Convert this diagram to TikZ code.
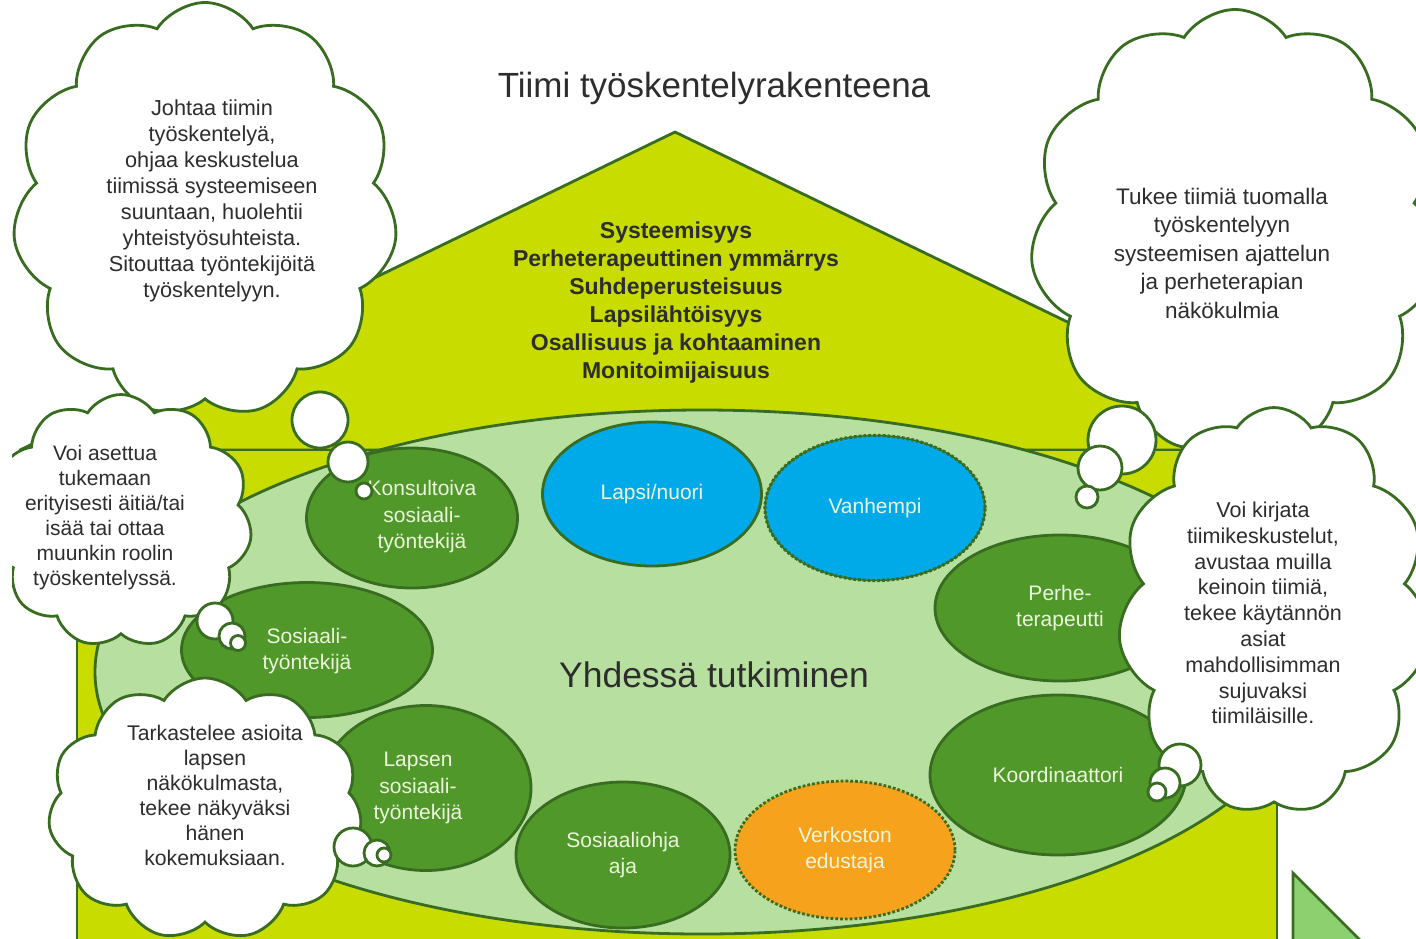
\documentclass[tikz,border=0pt]{standalone}
\usepackage{fontspec}
\setmainfont{Liberation Sans}
\usetikzlibrary{shapes.geometric,shapes.symbols}
\definecolor{roofc}{RGB}{200,220,0}
\definecolor{lightg}{RGB}{183,224,160}
\definecolor{darkg}{RGB}{80,152,42}
\definecolor{lineg}{RGB}{56,108,32}
\definecolor{bluec}{RGB}{0,170,232}
\definecolor{orangec}{RGB}{247,162,28}
\definecolor{txtc}{RGB}{45,45,45}
\definecolor{elltxt}{RGB}{236,246,220}
\definecolor{trig}{RGB}{140,208,112}
\begin{document}
\begin{tikzpicture}[x=1pt,y=-1pt,
  housebox/.style={draw=lineg, line width=2.8pt, fill=roofc, line join=round},
  role/.style={ellipse, draw=lineg, line width=2.8pt, fill=darkg, inner sep=0pt, text=elltxt, align=center, font=\fontsize{21}{26.5}\selectfont},
  roletext/.style={text=elltxt, align=center, font=\fontsize{21}{26.5}\selectfont},
  person/.style={role, fill=bluec},
  cloudbox/.style={cloud, cloud puffs=11, cloud puff arc=115, cloud ignores aspect, draw=lineg, line width=2.8pt, fill=white, inner sep=0pt},
  cloudtext/.style={text=txtc, align=center, inner sep=0pt},
  bubble/.style={circle, draw=lineg, line width=2.8pt, fill=white, inner sep=0pt}
]
\useasboundingbox (0,0) rectangle (1416,938);
\begin{scope}
\clip (12,0) rectangle (1416,938);
% house
\path[housebox] (20,450) -- (675,132) -- (1332,450) -- cycle;
\path[housebox] (77,450) rectangle (1277,960);
\path[draw=lineg, line width=2.8pt, fill=trig] (1293,873) -- (1293,950) -- (1370,950) -- cycle;
% common field
\node[ellipse, draw=lineg, line width=2.8pt, fill=lightg, minimum width=1214pt, minimum height=524pt, inner sep=0pt] (field) at (702,672) {};
\node[text=txtc, font=\fontsize{35.5}{40}\selectfont] (together) at (714,675) {Yhdessä tutkiminen};
% roles
\node[role, minimum width=211pt, minimum height=140pt] (kons) at (412,518) {};
\node[roletext] (konst) at (422,517) {Konsultoiva\\sosiaali-\\työntekijä};
\node[role, minimum width=251pt, minimum height=135pt] (sos) at (307,650) {};
\node[roletext] (sost) at (307,651) {Sosiaali-\\työntekijä};
\node[role, minimum width=210pt, minimum height=165pt] (lsos) at (426,788) {};
\node[roletext] (lsost) at (418,788) {Lapsen\\sosiaali-\\työntekijä};
\node[role, minimum width=214pt, minimum height=146pt] (ohj) at (623,855) {Sosiaaliohja\\aja};
\node[role, fill=orangec, dotted, minimum width=220pt, minimum height=138pt] (verk) at (845,850) {Verkoston\\edustaja};
\node[role, minimum width=256pt, minimum height=160pt] (koord) at (1058,775) {Koordinaattori};
\node[role, minimum width=250pt, minimum height=146pt] (perhe) at (1060,608) {Perhe-\\terapeutti};
\node[person, minimum width=219pt, minimum height=144pt] (lapsi) at (652,494) {Lapsi/nuori};
\node[person, dotted, line width=3.2pt, minimum width=220pt, minimum height=145pt,
      postaction={draw=lineg, solid, line width=1.4pt}] (vanh) at (875,508) {Vanhempi};
% roof text
\node[text=txtc, align=center, font=\bfseries\fontsize{23}{28}\selectfont] (values) at (676,303)
  {Systeemisyys\\Perheterapeuttinen ymmärrys\\Suhdeperusteisuus\\Lapsilähtöisyys\\Osallisuus ja kohtaaminen\\Monitoimijaisuus};
\node[text=txtc, font=\fontsize{35}{40}\selectfont] (title) at (714,88) {Tiimi työskentelyrakenteena};
% clouds
\node[cloudbox, minimum width=385pt, minimum height=415pt] (cTL) at (205,210) {};
\node[cloudtext, font=\fontsize{21.7}{26.1}\selectfont] (tTL) at (212,201) {Johtaa tiimin\\työskentelyä,\\ohjaa keskustelua\\tiimissä systeemiseen\\suuntaan, huolehtii\\yhteistyösuhteista.\\Sitouttaa työntekijöitä\\työskentelyyn.};
\node[bubble, minimum size=56pt] (bTL1) at (320,420) {};
\node[bubble, minimum size=40pt] (bTL2) at (348,462) {};
\node[bubble, minimum size=16pt] (bTL3) at (364,491) {};

\node[cloudbox, minimum width=262pt, minimum height=253pt] (cVA) at (121,521) {};
\node[cloudtext, font=\fontsize{21}{25}\selectfont] (tVA) at (105,518) {Voi asettua\\tukemaan\\erityisesti äitiä/tai\\isää tai ottaa\\muunkin roolin\\työskentelyssä.};
\node[bubble, minimum size=36pt] (bVA1) at (215,621) {};
\node[bubble, minimum size=26pt] (bVA2) at (232,636) {};
\node[bubble, minimum size=15pt] (bVA3) at (238,643) {};

\node[cloudbox, minimum width=314pt, minimum height=262pt] (cTA) at (205,809) {};
\node[cloudtext, font=\fontsize{21.2}{25}\selectfont] (tTA) at (215,795) {Tarkastelee asioita\\lapsen\\näkökulmasta,\\tekee näkyväksi\\hänen\\kokemuksiaan.};
\node[bubble, minimum size=38pt] (bTA1) at (353,847) {};
\node[bubble, minimum size=26pt] (bTA2) at (377,853) {};
\node[bubble, minimum size=14pt] (bTA3) at (384,855) {};

\node[cloudbox, minimum width=410pt, minimum height=445pt] (cTR) at (1235,232) {};
\node[cloudtext, font=\fontsize{22.5}{28.5}\selectfont] (tTR) at (1222,253) {Tukee tiimiä tuomalla\\työskentelyyn\\systeemisen ajattelun\\ja perheterapian\\näkökulmia};
\node[bubble, minimum size=68pt] (bTR1) at (1122,440) {};
\node[bubble, minimum size=44pt] (bTR2) at (1100,468) {};
\node[bubble, minimum size=22pt] (bTR3) at (1087,497) {};

\node[cloudbox, minimum width=312pt, minimum height=407pt] (cVK) at (1274,611) {};
\node[cloudtext, font=\fontsize{21.5}{25.8}\selectfont] (tVK) at (1263,613) {Voi kirjata\\tiimikeskustelut,\\avustaa muilla\\keinoin tiimiä,\\tekee käytännön\\asiat\\mahdollisimman\\sujuvaksi\\tiimiläisille.};
\node[bubble, minimum size=42pt] (bVK1) at (1180,765) {};
\node[bubble, minimum size=30pt] (bVK2) at (1165,783) {};
\node[bubble, minimum size=18pt] (bVK3) at (1157,792) {};
\end{scope}
\end{tikzpicture}
\end{document}
